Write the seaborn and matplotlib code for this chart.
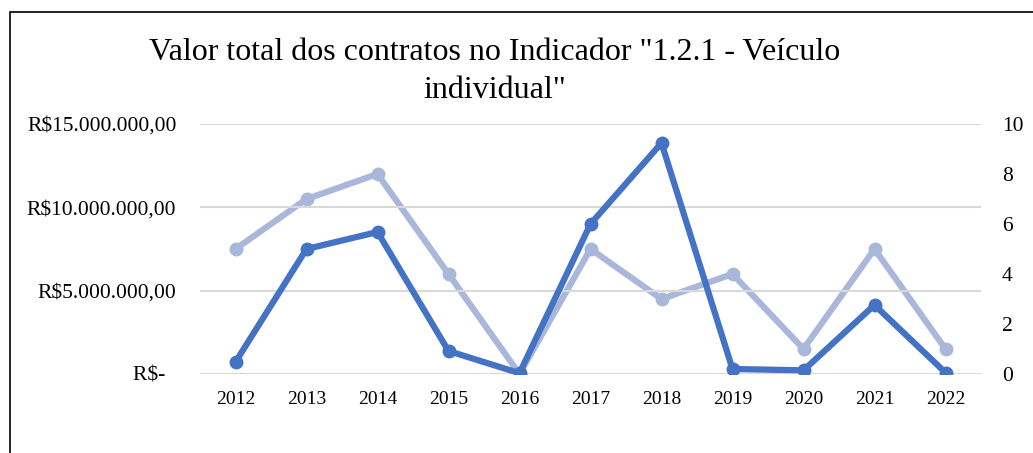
import matplotlib
matplotlib.use("Agg")
import matplotlib.pyplot as plt
import seaborn as sns
import pandas as pd
from matplotlib.ticker import FuncFormatter, MultipleLocator
from matplotlib.patches import Rectangle

years = ["2012", "2013", "2014", "2015", "2016", "2017", "2018", "2019", "2020", "2021", "2022"]
valor_total = [720000, 7500000, 8520000, 1380000, 50000, 9000000, 13860000, 300000, 220000, 4140000, 80000]
quantidade = [5, 7, 8, 4, 0, 5, 3, 4, 1, 5, 1]

sns.set_theme(style="white")
plt.rcParams['font.family'] = ['Liberation Serif', 'DejaVu Serif']

df = pd.DataFrame({"ano": years, "valor": valor_total, "qtd": quantidade})
df["x"] = range(len(years))

fig = plt.figure(figsize=(10.33, 4.53), dpi=100)
ax = fig.add_axes([200/1033, 1 - 374/453, 781/1033, 250/453])
ax2 = ax.twinx()

dark = "#4472C4"
light = "#A9B7DB"

sns.lineplot(data=df, x="x", y="qtd", ax=ax2, color=light, linewidth=4.5,
             marker="o", markersize=10, markeredgewidth=0, zorder=2)
sns.lineplot(data=df, x="x", y="valor", ax=ax, color=dark, linewidth=4.5,
             marker="o", markersize=10, markeredgewidth=0, zorder=3)

ax.set_zorder(ax2.get_zorder() + 1)
ax.patch.set_visible(False)

ax.set_xlim(-0.5, len(years) - 0.5)
ax.set_ylim(0, 15000000)
ax2.set_ylim(0, 10)
ax.yaxis.set_major_locator(MultipleLocator(5000000))
ax2.yaxis.set_major_locator(MultipleLocator(2))

def brl(v, pos):
    if v == 0:
        return "R$-  "
    s = f"{v:,.2f}"
    s = s.replace(",", "X").replace(".", ",").replace("X", ".")
    return "R$" + s

ax.yaxis.set_major_formatter(FuncFormatter(brl))
ax.set_xticks(df["x"])
ax.set_xticklabels(years)

ax.grid(axis="y", color="#D9D9D9", linewidth=1.5)
ax.grid(axis="x", visible=False)
ax2.grid(False)
for a in (ax, ax2):
    for s in a.spines.values():
        s.set_visible(False)
    a.set_xlabel("")
    a.set_ylabel("")
    a.tick_params(length=0)

ax.tick_params(axis="y", labelsize=15.5, pad=17, colors="#000000")
ax.tick_params(axis="x", labelsize=14, pad=12, colors="#000000")
ax2.tick_params(axis="y", labelsize=15.5, pad=15, colors="#000000")
for lab in ax2.get_yticklabels():
    lab.set_horizontalalignment("left")

fig.text(495/1033, 1 - 52/453, "Valor total dos contratos no Indicador \"1.2.1 - Veículo",
         ha="center", va="center", fontsize=23, color="#000000")
fig.text(495/1033, 1 - 90/453, "individual\"",
         ha="center", va="center", fontsize=23, color="#000000")

fig.patches.append(Rectangle((10/1033, -0.05), 1.2, 1 - 12/453 + 0.05,
                             transform=fig.transFigure, fill=False,
                             edgecolor="#000000", linewidth=1.2))

fig.savefig("out.png", dpi=100)
